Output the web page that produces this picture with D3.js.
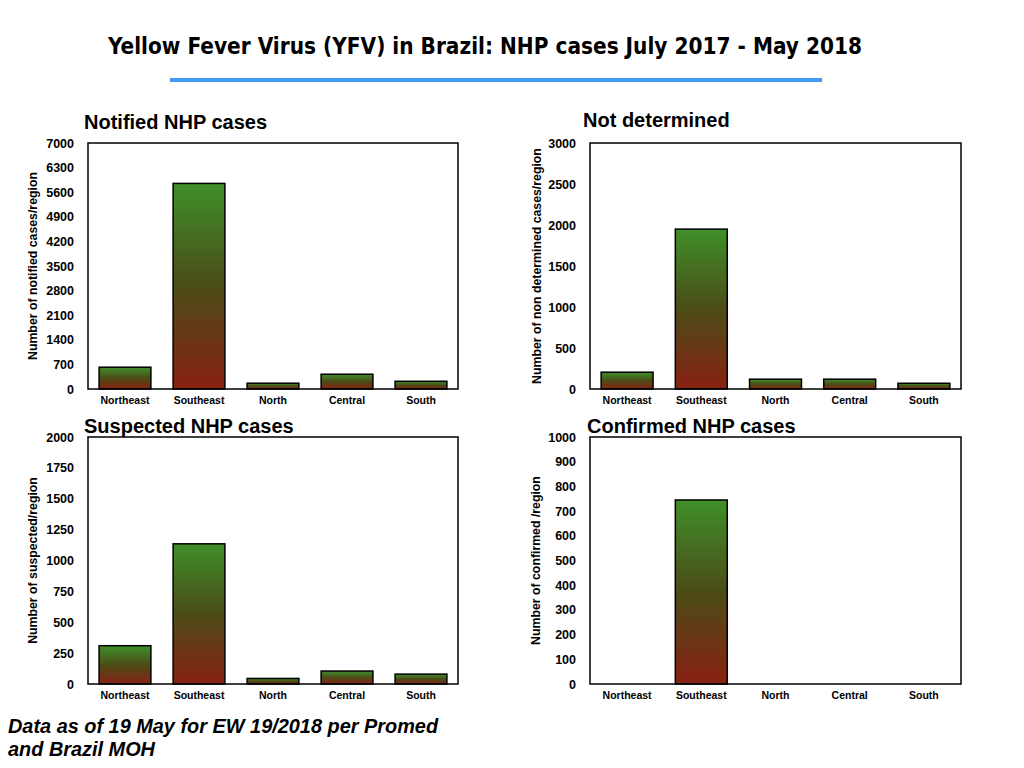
<!DOCTYPE html>
<html>
<head>
<meta charset="utf-8">
<script src="https://cdn.jsdelivr.net/npm/d3@7/dist/d3.min.js"></script>
<style>
  body { margin: 0; background: #fff; }
  text { font-family: "Liberation Sans", Arial, sans-serif; font-weight: bold; fill: #000; }
</style>
</head>
<body>
<div id="chart"></div>
<script>
// Data
const regions = ["Northeast", "Southeast", "North", "Central", "South"];
const notifiedCases = [620, 5850, 165, 420, 220];
const notDeterminedCases = [205, 1950, 120, 120, 70];
const suspectedCases = [310, 1135, 45, 105, 80];
const confirmedCases = [0, 745, 0, 0, 0];

const notifiedTicks = d3.range(0, 7001, 700);
const notDeterminedTicks = d3.range(0, 3001, 500);
const suspectedTicks = d3.range(0, 2001, 250);
const confirmedTicks = d3.range(0, 1001, 100);

const width = 1024, height = 768;

const svg = d3.select("#chart")
  .append("svg")
    .attr("width", width)
    .attr("height", height);

// green top -> red bottom, per bar
const grad = svg.append("defs").append("linearGradient")
    .attr("id", "barGrad")
    .attr("x1", 0).attr("y1", 0).attr("x2", 0).attr("y2", 1);
grad.append("stop").attr("offset", "0%").attr("stop-color", "#3f8f29");
grad.append("stop").attr("offset", "50%").attr("stop-color", "#4b4c18");
grad.append("stop").attr("offset", "100%").attr("stop-color", "#882112");

// main title and underline
svg.append("text")
  .attr("x", 485).attr("y", 54)
  .attr("text-anchor", "middle")
  .style("font-family", "'Liberation Sans Narrow', 'DejaVu Sans Condensed', sans-serif")
  .style("font-size", "23px")
  .attr("textLength", 754)
  .attr("lengthAdjust", "spacingAndGlyphs")
  .text("Yellow Fever Virus (YFV) in Brazil: NHP cases July 2017 - May 2018");

svg.append("line")
  .attr("x1", 170).attr("x2", 822)
  .attr("y1", 80).attr("y2", 80)
  .attr("stroke", "#3f9cf2")
  .attr("stroke-width", 4);

const panels = [
  {title: "Notified NHP cases", values: notifiedCases, ticks: notifiedTicks,
   label: "Number of notified cases/region", box: [88, 458, 143, 389], titleXY: [84, 129], labelX: 33},
  {title: "Not determined", values: notDeterminedCases, ticks: notDeterminedTicks,
   label: "Number of non determined cases/region", box: [590, 961, 143, 389], titleXY: [583, 127], labelX: 537},
  {title: "Suspected NHP cases", values: suspectedCases, ticks: suspectedTicks,
   label: "Number of suspected/region", box: [88, 458, 437, 684], titleXY: [84, 433], labelX: 33},
  {title: "Confirmed NHP cases", values: confirmedCases, ticks: confirmedTicks,
   label: "Number of confirmed /region", box: [590, 961, 437, 684], titleXY: [587, 433], labelX: 536}
];

panels.forEach((p) => {
  const [x0, x1, y0, y1] = p.box;

  const x = d3.scaleBand()
    .domain(regions)
    .range([x0, x1])
    .paddingInner(0.3)
    .paddingOuter(0.15);

  const y = d3.scaleLinear()
    .domain([0, d3.max(p.ticks)])
    .range([y1, y0]);

  const g = svg.append("g");

  // bars
  g.selectAll("rect.bar")
    .data(p.values.map((v, i) => ({region: regions[i], value: v})).filter(d => d.value > 0))
    .enter().append("rect")
      .attr("class", "bar")
      .attr("x", d => x(d.region))
      .attr("width", x.bandwidth())
      .attr("y", d => y(d.value))
      .attr("height", d => y(0) - y(d.value))
      .attr("fill", "url(#barGrad)")
      .attr("stroke", "#000")
      .attr("stroke-width", 1.5);

  // frame
  g.append("rect")
    .attr("x", x0).attr("y", y0)
    .attr("width", x1 - x0).attr("height", y1 - y0)
    .attr("fill", "none")
    .attr("stroke", "#000")
    .attr("stroke-width", 1.5);

  // y axis
  const yAxis = g.append("g")
    .attr("transform", `translate(${x0},0)`)
    .call(d3.axisLeft(y).tickValues(p.ticks).tickSize(0).tickPadding(14).tickFormat(d3.format("d")));
  yAxis.select(".domain").remove();
  yAxis.selectAll("text")
    .style("font-size", "12.5px")
    .style("font-family", "'Liberation Sans', Arial, sans-serif")
    .attr("fill", "#000");

  // x axis
  const xAxis = g.append("g")
    .attr("transform", `translate(0,${y1})`)
    .call(d3.axisBottom(x).tickSize(0).tickPadding(8));
  xAxis.select(".domain").remove();
  xAxis.selectAll("text")
    .style("font-size", "10.5px")
    .style("font-family", "'Liberation Sans', Arial, sans-serif")
    .attr("fill", "#000");

  // panel title
  g.append("text")
    .attr("x", p.titleXY[0]).attr("y", p.titleXY[1])
    .style("font-size", "20px")
    .text(p.title);

  // y label
  g.append("text")
    .attr("transform", `translate(${p.labelX},${(y0 + y1) / 2}) rotate(-90)`)
    .attr("text-anchor", "middle")
    .attr("dy", "0.35em")
    .style("font-size", "12.3px")
    .text(p.label);
});

// footnote
const note = svg.append("text")
  .attr("x", 8).attr("y", 733)
  .style("font-size", "19.9px")
  .style("font-style", "italic");
note.append("tspan").attr("x", 8).attr("dy", 0).text("Data as of 19 May for EW 19/2018 per Promed");
note.append("tspan").attr("x", 8).attr("y", 756).text("and Brazil MOH");
</script>
</body>
</html>
